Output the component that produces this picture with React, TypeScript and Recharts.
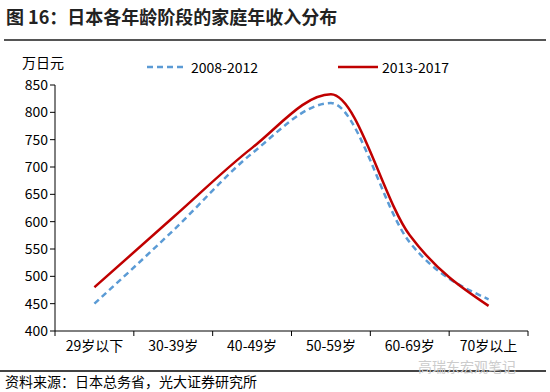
import { LineChart, Line, XAxis, YAxis, Legend } from "recharts";

const categories = ["29岁以下", "30-39岁", "40-49岁", "50-59岁", "60-69岁", "70岁以上"];
const income2008 = [450, 584, 725, 817, 562, 458];
const income2013 = [480, 608, 735, 833, 575, 446];
const yTicks = [400, 450, 500, 550, 600, 650, 700, 750, 800, 850];
const xBounds = [0, 1, 2, 3, 4, 5, 6];

const data = categories.map((c, i) => ({
  x: i + 0.5,
  name: c,
  s2008: income2008[i],
  s2013: income2013[i],
}));

const FONT = '"Noto Sans CJK SC", "Noto Sans", sans-serif';
const PLOT_LEFT = 55;
const PLOT_RIGHT = 528;
const BAND = (PLOT_RIGHT - PLOT_LEFT) / categories.length;

const CategoryTick = (props: any) => {
  const { x, y, payload } = props;
  const i = payload.value;
  if (i >= categories.length) return null;
  return (
    <text x={x + BAND / 2} y={y + 13} textAnchor="middle" fontSize={14} fill="#000" fontFamily={FONT}>
      {categories[i]}
    </text>
  );
};

const LegendBox = () => (
  <div style={{ position: "relative", height: 20, fontFamily: FONT, fontSize: 14, color: "#000" }}>
    <svg width={40} height={4} style={{ position: "absolute", left: 147, top: 7 }}>
      <line x1={0} y1={2} x2={40} y2={2} stroke="#5B9BD5" strokeWidth={2.5} strokeDasharray="6 4" />
    </svg>
    <span style={{ position: "absolute", left: 191, top: -1 }}>2008-2012</span>
    <svg width={40} height={4} style={{ position: "absolute", left: 338, top: 7 }}>
      <line x1={0} y1={2} x2={40} y2={2} stroke="#C00000" strokeWidth={2.5} />
    </svg>
    <span style={{ position: "absolute", left: 382, top: -1 }}>2013-2017</span>
  </div>
);

export default function App() {
  return (
    <div style={{ position: "absolute", left: 0, top: 0, width: 550, height: 392, background: "#fff", fontFamily: FONT, overflow: "hidden" }}>
      <div style={{ position: "absolute", left: 6, top: 3, fontSize: 18, fontWeight: 700, color: "#222" }}>
        图 16：日本各年龄阶段的家庭年收入分布
      </div>
      <div style={{ position: "absolute", left: 4, top: 39, width: 542, height: 2, background: "#555" }} />
      <div style={{ position: "absolute", left: 22, top: 52, fontSize: 14, color: "#000" }}>万日元</div>
      <LineChart
        width={550}
        height={392}
        data={data}
        margin={{ top: 65, right: 550 - PLOT_RIGHT, bottom: 31, left: 15 }}
        style={{ position: "absolute", left: 0, top: 0 }}
      >
        <XAxis
          dataKey="x"
          type="number"
          domain={[0, 6]}
          ticks={xBounds}
          interval={0}
          height={30}
          axisLine={{ stroke: "#000", strokeWidth: 1 }}
          tickLine={{ stroke: "#000" }}
          tickSize={5}
          tick={<CategoryTick />}
        />
        <YAxis
          domain={[400, 850]}
          ticks={yTicks}
          interval={0}
          width={40}
          axisLine={{ stroke: "#000", strokeWidth: 1 }}
          tickLine={{ stroke: "#000" }}
          tickSize={5}
          tick={{ fontSize: 14, fill: "#000", fontFamily: FONT }}
        />
        <Legend verticalAlign="top" content={<LegendBox />} wrapperStyle={{ top: 58, left: 0, width: 550 }} />
        <Line
          type="monotone"
          dataKey="s2008"
          name="2008-2012"
          stroke="#5B9BD5"
          strokeWidth={2.5}
          strokeDasharray="6 4"
          dot={false}
          isAnimationActive={false}
        />
        <Line
          type="monotone"
          dataKey="s2013"
          name="2013-2017"
          stroke="#C00000"
          strokeWidth={2.5}
          dot={false}
          isAnimationActive={false}
        />
      </LineChart>
      <div style={{ position: "absolute", left: 0, top: 370, width: 546, height: 1.5, background: "#444" }} />
      <div style={{ position: "absolute", left: 418, top: 356, fontSize: 14, color: "#ccc" }}>高瑞东宏观笔记</div>
      <div style={{ position: "absolute", left: 5, top: 371, fontSize: 14, color: "#000" }}>
        资料来源：日本总务省，光大证券研究所
      </div>
    </div>
  );
}
